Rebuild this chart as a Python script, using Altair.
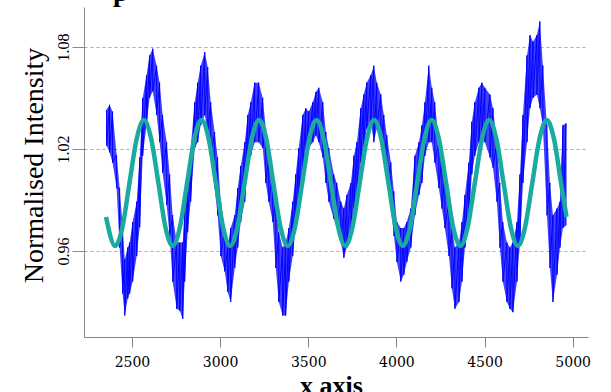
import altair as alt
import pandas as pd

# Noisy measured signal: x position, upper and lower edge of the noise band
sig_x = [2356, 2373, 2390, 2413, 2430, 2447, 2459, 2476, 2487, 2504, 2527, 2544, 2561, 2583,
         2600, 2618, 2640, 2657, 2674, 2697, 2714, 2731, 2754, 2771, 2788, 2799, 2816, 2833,
         2856, 2873, 2890, 2913, 2930, 2947, 2969, 2986, 3004, 3026, 3043, 3060, 3083, 3100,
         3117, 3140, 3157, 3174, 3196, 3219, 3242, 3259, 3276, 3299, 3316, 3333, 3355, 3372,
         3390, 3412, 3429, 3446, 3469, 3486, 3503, 3526, 3543, 3560, 3583, 3600, 3617, 3645,
         3662, 3685, 3702, 3719, 3742, 3759, 3776, 3798, 3815, 3832, 3855, 3872, 3889, 3912,
         3929, 3946, 3969, 3986, 4003, 4025, 4042, 4059, 4082, 4105, 4128, 4145, 4162, 4184,
         4201, 4218, 4241, 4258, 4275, 4298, 4315, 4332, 4355, 4372, 4389, 4411, 4428, 4445,
         4468, 4485, 4502, 4531, 4548, 4570, 4587, 4604, 4627, 4644, 4661, 4684, 4701, 4718,
         4741, 4758, 4775, 4797, 4814, 4831, 4854, 4871, 4888, 4911, 4928, 4945, 4962]
sig_hi = [1.043, 1.046, 1.042, 1.0165, 0.997, 0.975, 0.955, 0.962, 0.965, 0.977, 0.989, 1.015, 1.050, 1.0635,
          1.075, 1.079, 1.069, 1.059, 1.040, 1.024, 1.005, 0.981, 0.965, 0.965, 0.965, 0.985, 1.000, 1.0205,
          1.0475, 1.059, 1.069, 1.077, 1.068, 1.0475, 1.030, 1.015, 0.989, 0.9735, 0.962, 0.9735, 0.981, 0.997,
          1.010, 1.024, 1.040, 1.0475, 1.059, 1.059, 1.050, 1.032, 1.016, 1.005, 0.989, 0.971, 0.962, 0.965,
          0.9735, 0.989, 1.005, 1.0205, 1.040, 1.044, 1.042, 1.0475, 1.0535, 1.056, 1.0475, 1.030, 1.0205, 1.005,
          1.000, 0.989, 0.985, 0.993, 1.000, 1.016, 1.024, 1.044, 1.052, 1.059, 1.0635, 1.069, 1.059, 1.052,
          1.040, 1.028, 1.012, 0.995, 0.977, 0.9735, 0.9735, 0.977, 0.985, 1.016, 1.024, 1.034, 1.0475, 1.069,
          1.056, 1.0475, 1.024, 1.016, 1.005, 0.989, 0.9735, 0.962, 0.965, 0.977, 0.993, 1.012, 1.036, 1.0475,
          1.056, 1.059, 1.056, 1.052, 1.044, 1.024, 1.000, 0.977, 0.965, 0.962, 0.965, 0.977, 1.005, 1.040,
          1.075, 1.087, 1.083, 1.087, 1.095, 1.069, 1.034, 1.000, 0.981, 0.985, 0.989, 1.034, 1.035]
sig_lo = [1.022, 1.018, 1.012, 0.997, 0.962, 0.935, 0.922, 0.932, 0.935, 0.942, 0.957, 0.974, 1.016, 1.034,
          1.050, 1.054, 1.040, 1.024, 1.006, 0.987, 0.969, 0.942, 0.926, 0.925, 0.920, 0.942, 0.971, 0.989,
          1.0205, 1.024, 1.034, 1.040, 1.030, 1.016, 0.997, 0.981, 0.957, 0.948, 0.936, 0.930, 0.950, 0.962,
          0.977, 0.989, 1.010, 1.016, 1.024, 1.024, 1.0205, 1.000, 0.989, 0.977, 0.950, 0.930, 0.922, 0.922,
          0.942, 0.957, 0.9735, 0.989, 1.005, 1.016, 1.0205, 1.024, 1.028, 1.024, 1.015, 1.000, 0.989, 0.979,
          0.9735, 0.965, 0.956, 0.962, 0.971, 0.985, 0.993, 1.012, 1.0205, 1.032, 1.036, 1.024, 1.032, 1.024,
          1.015, 1.000, 0.985, 0.969, 0.9535, 0.942, 0.946, 0.9535, 0.962, 0.981, 0.993, 1.000, 1.016, 1.024,
          1.024, 1.012, 0.997, 0.985, 0.9735, 0.957, 0.938, 0.926, 0.930, 0.942, 0.962, 0.977, 1.005, 1.016,
          1.024, 1.028, 1.024, 1.015, 1.009, 0.989, 0.962, 0.942, 0.930, 0.926, 0.924, 0.942, 0.965, 1.000,
          1.024, 1.044, 1.050, 1.052, 1.044, 1.034, 0.981, 0.950, 0.930, 0.946, 0.962, 0.9735, 0.975]

# Fitted sinusoid, read at peaks, troughs and intermediate points
fit_x = [2353, 2405, 2446, 2486, 2527, 2568, 2609, 2650, 2690, 2731, 2772, 2813, 2854, 2894,
         2935, 2976, 3017, 3058, 3098, 3139, 3180, 3221, 3262, 3302, 3343, 3384, 3425, 3466,
         3506, 3547, 3588, 3629, 3670, 3710, 3751, 3792, 3833, 3874, 3914, 3955, 3996, 4037,
         4078, 4118, 4159, 4200, 4241, 4282, 4322, 4363, 4404, 4445, 4486, 4526, 4567, 4608,
         4649, 4690, 4730, 4771, 4812, 4853, 4894, 4934, 4965]
fit_y = [0.980, 0.963, 0.974, 1.000, 1.026, 1.037, 1.026, 1.000, 0.974, 0.963, 0.974, 1.000, 1.026, 1.037,
         1.026, 1.000, 0.974, 0.963, 0.974, 1.000, 1.026, 1.037, 1.026, 1.000, 0.974, 0.963, 0.974, 1.000,
         1.026, 1.037, 1.026, 1.000, 0.974, 0.963, 0.974, 1.000, 1.026, 1.037, 1.026, 1.000, 0.974, 0.963,
         0.974, 1.000, 1.026, 1.037, 1.026, 1.000, 0.974, 0.963, 0.974, 1.000, 1.026, 1.037, 1.026, 1.000,
         0.974, 0.963, 0.974, 1.000, 1.026, 1.037, 1.026, 1.000, 0.980]

x_ticks = [2500, 3000, 3500, 4000, 4500, 5000]
y_ticks = [0.96, 1.02, 1.08]
x_domain = [2228, 5087]
y_domain = [0.9094, 1.1035]
title_fragment = ["p"]

rows = []
for i, (x, h, l) in enumerate(zip(sig_x, sig_hi, sig_lo)):
    rows.append({"x": x, "y": h, "o": 2 * i})
    rows.append({"x": x, "y": l, "o": 2 * i + 1})
sig_df = pd.DataFrame(rows)
band_df = pd.DataFrame({"x": sig_x, "hi": sig_hi, "lo": sig_lo})
fit_df = pd.DataFrame({"x": fit_x, "y": fit_y})
title_df = pd.DataFrame({"t": title_fragment})

xscale = alt.Scale(domain=x_domain, nice=False, zero=False)
yscale = alt.Scale(domain=y_domain, nice=False, zero=False)

xaxis = alt.Axis(values=x_ticks, title="x axis", grid=False, domainColor="#888888",
                 tickColor="#888888", tickSize=10, labelFont="DejaVu Serif", labelFontSize=14,
                 labelColor="black", labelPadding=8, titleFont="Liberation Serif",
                 titleFontSize=26, titleFontWeight="bold", titleColor="black",
                 titleBaseline="alphabetic", titleY=56, titleX=247, format="d")
yaxis = alt.Axis(values=y_ticks, format=".2f", title="Normalised Intensity",
                 domainColor="#888888", tickColor="#888888", tickSize=12,
                 grid=True, gridColor="#aaaaaa", gridDash=[3, 3], gridWidth=1,
                 labelFont="Liberation Serif", labelFontSize=16, labelColor="black",
                 labelAngle=270, labelAlign="center", labelBaseline="alphabetic",
                 labelPadding=4, titleFont="Liberation Serif", titleFontSize=28,
                 titleFontWeight="normal", titleColor="black", titleAngle=270,
                 titleBaseline="alphabetic", titleAlign="center", titleX=-42, titleY=158)

band = alt.Chart(band_df).mark_area(color="#0000ff", opacity=0.75, clip=True).encode(
    x=alt.X("x:Q", scale=xscale, axis=xaxis),
    y=alt.Y("lo:Q", scale=yscale, axis=yaxis),
    y2="hi:Q",
)

signal = alt.Chart(sig_df).mark_line(color="#0000ff", strokeWidth=1, clip=True).encode(
    x=alt.X("x:Q", scale=xscale),
    y=alt.Y("y:Q", scale=yscale),
    order="o:Q",
)

fit = alt.Chart(fit_df).mark_line(color="#1aaba0", strokeWidth=4.5, interpolate="monotone").encode(
    x=alt.X("x:Q", scale=xscale),
    y=alt.Y("y:Q", scale=yscale),
)

title_mark = alt.Chart(title_df).mark_text(
    font="Liberation Serif", fontSize=28, fontWeight="bold", color="black",
    align="left", baseline="alphabetic",
).encode(text="t:N", x=alt.value(29), y=alt.value(-6))

chart = alt.layer(band, signal, fit, title_mark).properties(
    width=504, height=330,
    padding={"left": 84, "top": 7, "right": 23, "bottom": 55},
    autosize=alt.AutoSizeParams(type="none"),
    background="white",
).configure_view(stroke=None)

chart.save("out.html", embed_options={"renderer": "svg", "actions": False})
